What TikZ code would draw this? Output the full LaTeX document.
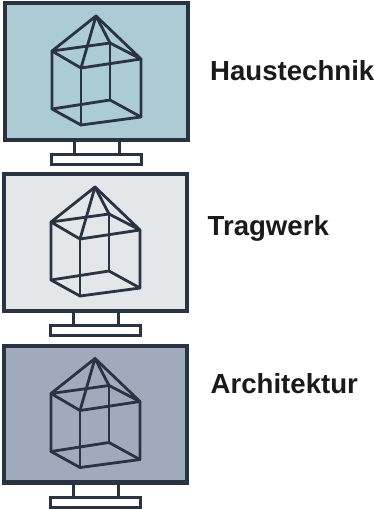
\documentclass[tikz,border=0pt]{standalone}
\usepackage{fontspec}
\setmainfont{Liberation Sans}
\definecolor{ink}{HTML}{2A3342}
\definecolor{teal1}{HTML}{ABCCD4}
\definecolor{grey1}{HTML}{E3E7E9}
\definecolor{blue1}{HTML}{9FABBC}
\definecolor{txt}{HTML}{1A1A1A}
\tikzset{
  screen/.style={draw=ink,line width=4.2pt,miter limit=10},
  wire/.style={draw=ink,line width=2.8pt,line join=round,line cap=round},
  stand/.style={draw=ink,line width=3pt},
  label/.style={anchor=base west,inner sep=0pt,font=\bfseries\fontsize{27.6}{30}\selectfont,text=txt},
}
\newcommand{\monitor}[3]{%
\begin{scope}[shift={(#1,#2)}]
  \draw[stand] (74.3,140) -- (74.3,154) (119,140) -- (119,154);
  \draw[stand,fill=white] (51.8,154.5) rectangle (141,164.5);
  \draw[screen,fill=#3] (5,3.2) rectangle (188,140);
  \coordinate (ap) at (96,16);
  \coordinate (lt) at (52,51);
  \coordinate (ft) at (81,68);
  \coordinate (rt) at (141,59);
  \coordinate (bt) at (110,43);
  \coordinate (lb) at (52,109);
  \coordinate (fb) at (81,125);
  \coordinate (rb) at (141,117);
  \coordinate (bb) at (110,100);
  \draw[wire] (lt) -- (ap) -- (rt) -- (ft) -- (lt) -- (bt) -- (rt);
  \draw[wire] (ap) -- (ft) (ap) -- (bt);
  \draw[wire] (lt) -- (lb) -- (fb) -- (rb) -- (rt);
  \draw[wire] (lb) -- (bb) -- (rb);
  \draw[wire] (ft) -- (fb) (bt) -- (bb);
\end{scope}}
\begin{document}
\begin{tikzpicture}[x=1pt,y=-1pt]
  \useasboundingbox (0,0) rectangle (374,509);
  \monitor{0}{0}{teal1}
  \monitor{-1}{171}{grey1}
  \monitor{-1}{342.5}{blue1}
  \node[label] (haus) at (210,80) {Haustechnik};
  \node[label] (trag) at (207.5,235) {Tragwerk};
  \node[label] (arch) at (210.5,393) {Architektur};
\end{tikzpicture}
\end{document}
